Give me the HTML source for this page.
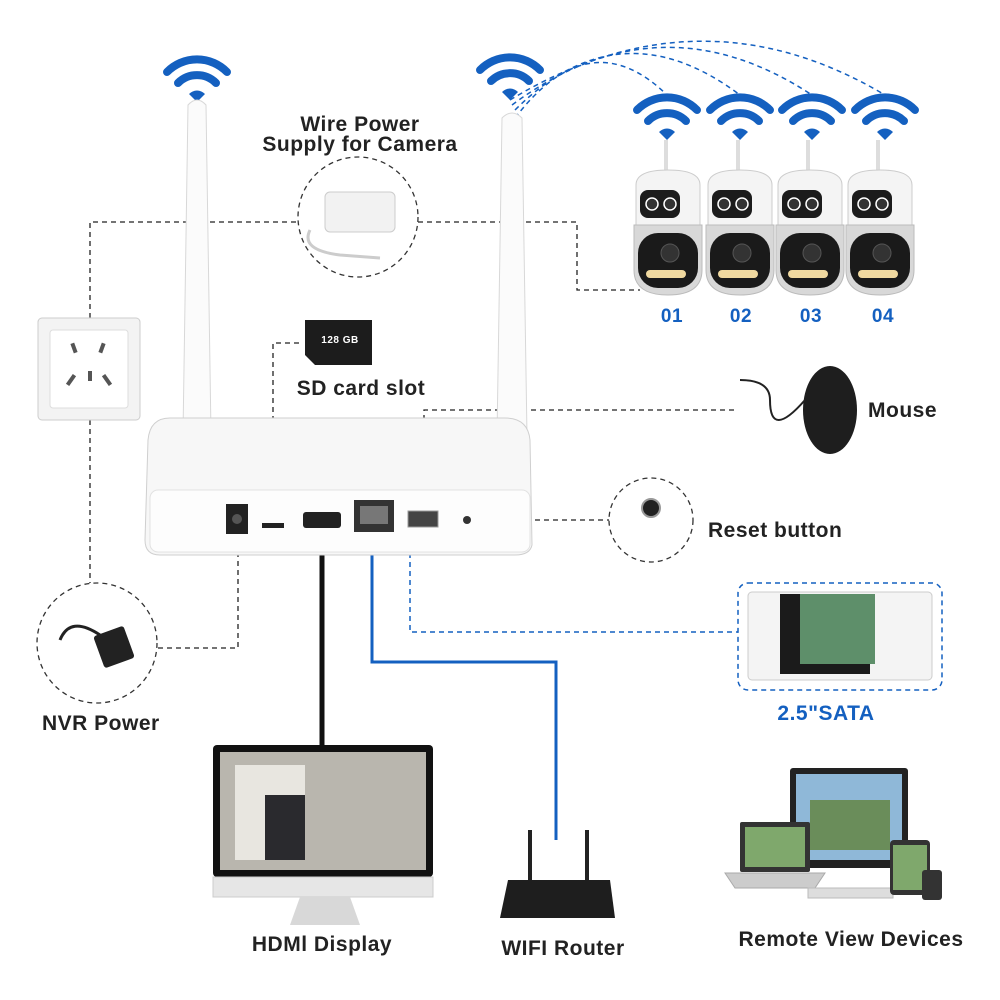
<!DOCTYPE html>
<html><head><meta charset="utf-8"><style>
html,body{margin:0;padding:0;background:#fff;}
svg{display:block;}
text{font-family:"Liberation Sans",sans-serif;font-weight:bold;letter-spacing:0.5px;}
</style></head><body>
<svg width="1000" height="1000" viewBox="0 0 1000 1000" xmlns="http://www.w3.org/2000/svg">
<defs>
<g id="wifi">
<path d="M-30,-8 A42,42 0 0 1 30,-8" fill="none" stroke="#1460c0" stroke-width="8" stroke-linecap="round"/>
<path d="M-19,3 A27,27 0 0 1 19,3" fill="none" stroke="#1460c0" stroke-width="8" stroke-linecap="round"/>
<path d="M-8,14 L0,22 L8,14 A11,11 0 0 0 -8,14Z" fill="#1460c0"/>
</g>
<g id="cam">
<rect x="-4" y="-45" width="4" height="40" fill="#ddd"/>
<path d="M-32,0 Q-32,-15 0,-15 Q32,-15 32,0 L32,40 L-32,40Z" fill="#f4f4f4" stroke="#ccc"/>
<rect x="-28" y="5" width="40" height="28" rx="8" fill="#1c1c1c"/>
<circle cx="-16" cy="19" r="6" fill="#333" stroke="#fff" stroke-width="1.5"/>
<circle cx="2" cy="19" r="6" fill="#333" stroke="#fff" stroke-width="1.5"/>
<path d="M-34,40 L34,40 L34,85 Q34,110 0,110 Q-34,110 -34,85Z" fill="#d8d8d8" stroke="#bbb"/>
<rect x="-30" y="48" width="60" height="55" rx="20" fill="#1a1a1a"/>
<circle cx="2" cy="68" r="9" fill="#333" stroke="#555"/>
<rect x="-22" y="85" width="40" height="8" rx="4" fill="#f0d9a0"/>
</g>
</defs>

<g fill="none" stroke="#222" stroke-width="1.3" stroke-dasharray="5,4">
<polyline points="90,318 90,222 298,222"/>
<polyline points="418,222 577,222 577,290 640,290"/>
<line x1="90" y1="420" x2="90" y2="583"/>
<polyline points="158,648 238,648 238,535"/>
<polyline points="273,520 273,343 300,343"/>
<polyline points="424,510 424,410 735,410"/>
<line x1="472" y1="520" x2="610" y2="520"/>
</g>
<g fill="none" stroke="#1460c0" stroke-width="1.5" stroke-dasharray="5,4">
<polyline points="410,535 410,632 738,632"/>
<path d="M515,118 Q590,20 667,95"/>
<path d="M515,110 Q620,5 740,95"/>
<path d="M512,105 Q660,-5 812,95"/>
<path d="M510,100 Q700,-15 885,95"/>
</g>
<polyline points="372,530 372,662 556,662 556,840" fill="none" stroke="#1460c0" stroke-width="3"/>
<polyline points="322,530 322,745" fill="none" stroke="#111" stroke-width="5"/>

<use href="#wifi" x="197" y="80"/>
<use href="#wifi" x="510" y="78"/>
<use href="#wifi" x="667" y="118"/>
<use href="#wifi" x="740" y="118"/>
<use href="#wifi" x="812" y="118"/>
<use href="#wifi" x="885" y="118"/>

<path d="M188,105 Q197,95 206,105 L212,500 L182,500Z" fill="#fbfbfb" stroke="#d8d8d8"/>
<path d="M502,118 Q512,108 522,118 L528,500 L496,500Z" fill="#fbfbfb" stroke="#d8d8d8"/>

<path d="M170,418 L505,418 Q528,418 530,440 L532,545 Q530,555 515,555 L160,555 Q145,555 145,540 L148,440 Q150,418 170,418Z" fill="#f7f7f7" stroke="#cfcfcf"/>
<rect x="150" y="490" width="380" height="62" rx="8" fill="#fdfdfd" stroke="#e2e2e2"/>
<rect x="226" y="504" width="22" height="30" fill="#222"/>
<circle cx="237" cy="519" r="5" fill="#555"/>
<rect x="262" y="523" width="22" height="5" fill="#222"/>
<rect x="303" y="512" width="38" height="16" rx="3" fill="#222"/>
<rect x="354" y="500" width="40" height="32" fill="#333"/>
<rect x="360" y="506" width="28" height="18" fill="#777"/>
<rect x="408" y="511" width="30" height="16" fill="#444" stroke="#999"/>
<circle cx="467" cy="520" r="4" fill="#333"/>

<rect x="38" y="318" width="102" height="102" rx="4" fill="#f3f3f3" stroke="#ccc"/>
<rect x="50" y="330" width="78" height="78" rx="3" fill="#fff" stroke="#ddd"/>
<rect x="72" y="343" width="4" height="10" fill="#555" transform="rotate(-20 74 348)"/>
<rect x="100" y="343" width="4" height="10" fill="#555" transform="rotate(20 102 348)"/>
<rect x="69" y="374" width="4" height="12" fill="#555" transform="rotate(35 71 380)"/>
<rect x="88" y="371" width="4" height="10" fill="#555"/>
<rect x="105" y="374" width="4" height="12" fill="#555" transform="rotate(-35 107 380)"/>

<circle cx="358" cy="217" r="60" fill="#fff" stroke="#333" stroke-width="1.3" stroke-dasharray="5,4"/>
<rect x="325" y="192" width="70" height="40" rx="5" fill="#f2f2f2" stroke="#ccc"/>
<path d="M310,230 Q300,250 340,255 L380,258" fill="none" stroke="#ccc" stroke-width="3"/>
<circle cx="97" cy="643" r="60" fill="#fff" stroke="#333" stroke-width="1.3" stroke-dasharray="5,4"/>
<rect x="98" y="630" width="32" height="34" rx="3" fill="#222" transform="rotate(-20 114 647)"/>
<path d="M60,640 Q70,615 100,635" fill="none" stroke="#222" stroke-width="3"/>
<circle cx="651" cy="520" r="42" fill="#fff" stroke="#333" stroke-width="1.3" stroke-dasharray="5,4"/>
<circle cx="651" cy="508" r="9" fill="#222" stroke="#999" stroke-width="2"/>

<path d="M305,320 L372,320 L372,365 L315,365 L305,355Z" fill="#1c1c1c"/>
<text x="340" y="343" font-size="10" fill="#fff" text-anchor="middle" font-weight="normal">128 GB</text>

<use href="#cam" x="668" y="185"/>
<use href="#cam" x="740" y="185"/>
<use href="#cam" x="810" y="185"/>
<use href="#cam" x="880" y="185"/>

<ellipse cx="830" cy="410" rx="27" ry="44" fill="#1e1e1e"/>
<path d="M805,400 Q770,440 770,400 Q770,380 740,380" fill="none" stroke="#222" stroke-width="2"/>

<rect x="738" y="583" width="204" height="107" rx="10" fill="#fff" stroke="#1460c0" stroke-width="1.5" stroke-dasharray="5,4"/>
<rect x="748" y="592" width="184" height="88" rx="4" fill="#f4f4f4" stroke="#ccc"/>
<rect x="780" y="594" width="90" height="80" fill="#1b1b1b"/>
<rect x="800" y="594" width="75" height="70" fill="#5e8f6a"/>

<rect x="213" y="745" width="220" height="132" rx="4" fill="#111"/>
<rect x="220" y="752" width="206" height="118" fill="#b9b6ae"/>
<rect x="235" y="765" width="70" height="95" fill="#e8e6e0"/>
<rect x="265" y="795" width="40" height="65" fill="#2a2a2e"/>
<rect x="213" y="877" width="220" height="20" fill="#e6e6e6" stroke="#ccc"/>
<path d="M300,897 L350,897 L360,925 L290,925Z" fill="#d8d8d8"/>

<rect x="528" y="830" width="4" height="55" fill="#222"/>
<rect x="585" y="830" width="4" height="55" fill="#222"/>
<path d="M508,880 L610,880 L615,918 L500,918Z" fill="#1e1e1e"/>

<rect x="790" y="768" width="118" height="100" rx="3" fill="#222"/>
<rect x="796" y="774" width="106" height="86" fill="#8fb8d8"/>
<rect x="810" y="800" width="80" height="50" fill="#6a8d5a"/>
<rect x="740" y="822" width="70" height="50" rx="2" fill="#333"/>
<rect x="745" y="827" width="60" height="40" fill="#7fa86c"/>
<path d="M725,873 L825,873 L815,888 L735,888Z" fill="#ccc" stroke="#aaa"/>
<rect x="808" y="888" width="85" height="10" fill="#ddd" stroke="#bbb"/>
<rect x="890" y="840" width="40" height="55" rx="4" fill="#333"/>
<rect x="893" y="845" width="34" height="45" fill="#7fa86c"/>
<rect x="922" y="870" width="20" height="30" rx="3" fill="#333"/>

<text x="360" y="131" font-size="21" fill="#222" text-anchor="middle">Wire Power</text>
<text x="360" y="151" font-size="21" fill="#222" text-anchor="middle">Supply for Camera</text>
<text x="361" y="395" font-size="21" fill="#222" text-anchor="middle">SD card slot</text>
<text x="868" y="417" font-size="21" fill="#222">Mouse</text>
<text x="708" y="537" font-size="21" fill="#222">Reset button</text>
<text x="42" y="730" font-size="21" fill="#222">NVR Power</text>
<text x="826" y="720" font-size="21" fill="#1460c0" text-anchor="middle">2.5"SATA</text>
<text x="322" y="951" font-size="21" fill="#222" text-anchor="middle">HDMl Display</text>
<text x="563" y="955" font-size="21" fill="#222" text-anchor="middle">WIFI Router</text>
<text x="851" y="946" font-size="21" fill="#222" text-anchor="middle">Remote View Devices</text>
<g font-size="19" fill="#1460c0" text-anchor="middle">
<text x="672" y="322">01</text><text x="741" y="322">02</text><text x="811" y="322">03</text><text x="883" y="322">04</text>
</g>
</svg>
</body></html>
